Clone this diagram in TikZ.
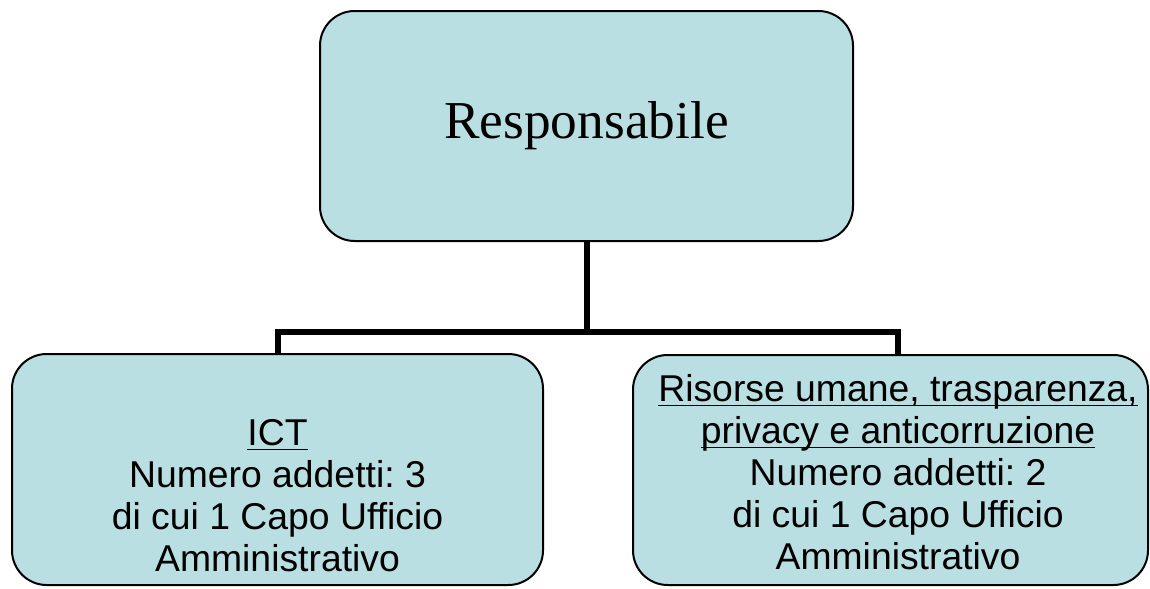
\documentclass[tikz,border=0pt]{standalone}
\usepackage{fontspec}
\setmainfont{Liberation Serif}
\newfontfamily\arialfont{Liberation Sans}
\frenchspacing
\newsavebox\myulbox
\newcommand{\myul}[1]{\sbox\myulbox{#1}\rlap{\usebox\myulbox}\rule[-3.6pt]{\wd\myulbox}{1.2pt}}
\definecolor{boxfill}{RGB}{186,223,227}
\tikzset{
  orgbox/.style={draw=black, line width=1.5pt, fill=boxfill, rounded corners=26pt, inner sep=0pt},
  subtext/.style={align=center, inner sep=0pt, anchor=north, font=\arialfont\frenchspacing\fontsize{28}{31.5}\selectfont},
  conn/.style={draw=black, line width=4.5pt, line join=miter}
}
\begin{document}
\begin{tikzpicture}[x=0.75pt,y=-0.75pt]
\useasboundingbox (0,0) rectangle (1150,589);
\node[orgbox, minimum width=399.75pt, minimum height=172.5pt, font=\fontsize{40}{48}\selectfont] (top) at (586.5,126) {Responsabile};
\node[orgbox, minimum width=398.25pt, minimum height=173.25pt] (left) at (277.5,469.5) {};
\node[orgbox, minimum width=386.25pt, minimum height=172.5pt] (right) at (890.5,470) {};
\node[subtext] (lefttext) at (277.5,419) {\myul{ICT}\\Numero addetti: 3\\di cui 1 Capo Ufficio\\Amministrativo};
\node[subtext] (righttext) at (898,374) {\myul{Risorse umane, trasparenza,}\\\myul{privacy e anticorruzione}\\Numero addetti: 2\\di cui 1 Capo Ufficio\\Amministrativo};
\coordinate (busL) at (278,332);
\coordinate (busR) at (898,332);
\draw[conn] (top.south) -- (top.south |- busL);
\draw[conn] (busL |- left.north) -- (busL) -- (busR) -- (busR |- right.north);
\end{tikzpicture}
\end{document}
